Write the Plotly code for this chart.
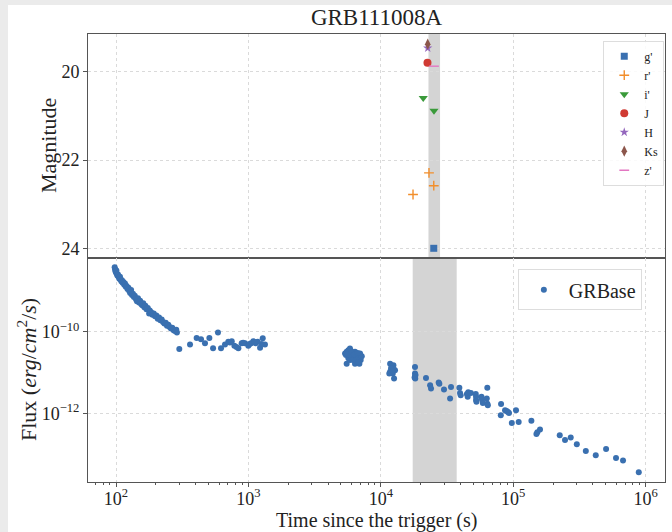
import numpy as np
import plotly.graph_objects as go
from plotly.subplots import make_subplots

# ---------------- data ----------------
title_text = "GRB111008A"

# optical/NIR photometry (time [s], magnitude)
g_t = [2.51e4]; g_m = [24.0]
r_t = [2.31e4, 2.51e4, 1.75e4]; r_m = [22.29, 22.58, 22.78]
i_t = [2.09e4, 2.52e4]; i_m = [20.59, 20.88]
J_t = [2.25e4]; J_m = [19.79]
H_t = [2.26e4]; H_m = [19.46]
Ks_t = [2.26e4]; Ks_m = [19.37]
z_t = [2.52e4]; z_m = [19.87]

top_span = [2.29e4, 2.80e4]
bottom_span = [1.74e4, 3.74e4]

# X-ray light curve, read as log10(time), log10(flux)
log_t = [1.990, 1.993, 1.996, 2.000, 2.003, 2.006, 2.010, 2.015, 2.020, 2.025, 2.030, 2.035,
         2.040, 2.045, 2.050, 2.056, 2.062, 2.068, 2.074, 2.080, 2.087, 2.094, 2.100, 2.107,
         2.114, 2.121, 2.128, 2.135, 2.142, 2.150, 2.158, 2.166, 2.174, 2.182, 2.190, 2.198,
         2.206, 2.214, 2.222, 2.230, 2.240, 2.250, 2.255, 2.265, 2.275, 2.285, 2.295, 2.305,
         2.315, 2.325, 2.335, 2.345, 2.355, 2.365, 2.375, 2.385, 2.395, 2.405, 2.415, 2.425,
         2.435, 2.445, 2.455, 2.460,
         2.478, 2.559, 2.609, 2.642, 2.672, 2.705, 2.733, 2.770, 2.793, 2.823, 2.848, 2.874,
         2.894, 2.924, 2.949, 2.974, 2.999, 3.020, 3.037, 3.055, 3.070, 3.088, 3.108, 3.125,
         2.860, 2.910, 2.960, 3.010, 3.045, 3.100,
         3.730, 3.742, 3.755, 3.767, 3.780, 3.792, 3.805, 3.818, 3.830, 3.843, 3.848, 3.838,
         3.805, 3.742, 3.755, 3.767, 3.780, 3.792, 3.818, 3.830, 3.737, 3.856, 3.750, 3.775,
         3.800, 3.825,
         4.070, 4.082, 4.095, 4.082, 4.070, 4.090, 4.107, 4.100, 4.064, 4.095, 4.077, 4.088,
         4.258, 4.258, 4.258, 4.260, 4.262, 4.255,
         4.341, 4.372, 4.379, 4.437, 4.442, 4.477, 4.523, 4.530, 4.593, 4.598, 4.603, 4.650,
         4.656, 4.660, 4.680, 4.717, 4.719, 4.719, 4.722, 4.760, 4.764, 4.770, 4.800, 4.804,
         4.808, 4.804, 4.908, 4.906, 4.938, 4.950, 4.960, 4.968, 4.989, 5.021, 5.041, 5.137,
         5.175, 5.182, 5.202, 5.351, 5.391, 5.434, 5.480, 5.548, 5.623, 5.701, 5.776, 5.829,
         5.948]
log_f = [-8.42, -8.47, -8.52, -8.55, -8.50, -8.58, -8.62, -8.60, -8.66, -8.70, -8.65, -8.72,
         -8.76, -8.74, -8.80, -8.78, -8.85, -8.82, -8.90, -8.88, -8.95, -8.92, -9.00, -9.05,
         -8.98, -9.10, -9.07, -9.15, -9.12, -9.20, -9.25, -9.18, -9.28, -9.24, -9.32, -9.35,
         -9.30, -9.40, -9.36, -9.45, -9.42, -9.55, -9.48, -9.52, -9.58, -9.55, -9.62, -9.60,
         -9.68, -9.65, -9.72, -9.70, -9.76, -9.80, -9.78, -9.85, -9.83, -9.88, -9.92, -9.90,
         -9.96, -9.98, -9.95, -10.02,
         -10.42, -10.31, -10.15, -10.18, -10.28, -10.15, -10.40, -10.02, -10.40, -10.31, -10.245, -10.23,
         -10.34, -10.40, -10.28, -10.28, -10.34, -10.28, -10.23, -10.28, -10.245, -10.39, -10.16, -10.31,
         -10.26, -10.37, -10.27, -10.30, -10.25, -10.30,
         -10.53, -10.49, -10.45, -10.41, -10.53, -10.61, -10.49, -10.57, -10.61, -10.53, -10.69, -10.78,
         -10.78, -10.78, -10.65, -10.69, -10.61, -10.69, -10.69, -10.74, -10.57, -10.60, -10.55, -10.47,
         -10.55, -10.52,
         -10.78, -10.86, -10.82, -10.94, -10.98, -11.02, -10.94, -11.14, -11.02, -10.90, -10.90, -10.96,
         -10.86, -11.02, -11.10, -11.14, -11.06, -11.12,
         -11.13, -11.31, -11.39, -11.24, -11.27, -11.41, -11.63, -11.35, -11.37, -11.50, -11.55, -11.52,
         -11.59, -11.48, -11.50, -11.52, -11.59, -11.67, -11.71, -11.59, -11.66, -11.74, -11.63, -11.76,
         -11.80, -11.37, -11.77, -12.04, -11.92, -11.94, -11.96, -11.99, -12.23, -11.92, -12.21, -12.18,
         -12.50, -12.46, -12.39, -12.53, -12.65, -12.59, -12.75, -12.92, -13.02, -12.87, -13.09, -13.15,
         -13.44]

x_tickvals = [1e2, 1e3, 1e4, 1e5, 1e6]
x_ticktext = ["10<sup>2</sup>", "10<sup>3</sup>", "10<sup>4</sup>", "10<sup>5</sup>", "10<sup>6</sup>"]
mag_ticks = [20, 22, 24]
flux_tickvals = [1e-10, 1e-12]
flux_ticktext = ["10<sup>\u221210</sup>", "10<sup>\u221212</sup>"]

# ---------------- figure ----------------
FONT = "Liberation Serif"
BLUE = "#3a70b0"
TXT = "#222222"
LINE = "#555555"

fig = make_subplots(rows=2, cols=1, shared_xaxes=True, vertical_spacing=0)

# page-like white sheet over a gray page (added first so it stays underneath)
fig.add_shape(type="rect", xref="paper", yref="paper",
              x0=(8 - 88) / 577, x1=(672 - 88) / 577 + 0.01,
              y0=-50 / 448 - 0.01, y1=1 + 29 / 448,
              fillcolor="white", line_width=0, layer="below")

def mtrace(t, m, name, color, symbol, size, lw=0):
    marker = dict(color=color, symbol=symbol, size=size)
    if lw:
        marker["line"] = dict(color=color, width=lw)
    fig.add_trace(go.Scatter(x=t, y=m, mode="markers", name=name, marker=marker,
                             legend="legend"), row=1, col=1)

mtrace(g_t, g_m, "g'", BLUE, "square", 7)
mtrace(r_t, r_m, "r'", "#f28e2b", "cross-thin", 7, 1.4)
mtrace(i_t, i_m, "i'", "#3a9a3a", "triangle-down", 8)
mtrace(J_t, J_m, "J", "#d03a33", "circle", 8)
mtrace(H_t, H_m, "H", "#9467bd", "star", 7)
mtrace(Ks_t, Ks_m, "Ks", "#8c564b", "diamond-tall", 8)
mtrace(z_t, z_m, "z'", "#e377c2", "line-ew", 7, 1.4)

fig.add_trace(go.Scatter(x=np.power(10.0, log_t), y=np.power(10.0, log_f), mode="markers",
                         name="GRBase", marker=dict(color=BLUE, size=6),
                         legend="legend2"), row=2, col=1)

# shaded spans
fig.add_shape(type="rect", xref="x", yref="y domain", x0=top_span[0], x1=top_span[1],
              y0=0, y1=1, fillcolor="#d4d4d4", line_width=0, layer="below")
fig.add_shape(type="rect", xref="x2", yref="y2 domain", x0=bottom_span[0], x1=bottom_span[1],
              y0=0, y1=1, fillcolor="#d4d4d4", line_width=0, layer="below")

axis_common = dict(showline=True, linecolor=LINE, linewidth=1, mirror=True,
                   showgrid=True, gridcolor="#dadada", griddash="dot", gridwidth=0.8,
                   zeroline=False, automargin=False,
                   tickfont=dict(family=FONT, size=18, color=TXT))

fig.update_xaxes(type="log", range=[1.7885, 6.146], tickvals=x_tickvals, ticktext=x_ticktext,
                 **axis_common)
fig.update_xaxes(showticklabels=False, ticks="", row=1, col=1)
minor_vals = [m * 10 ** e for e in range(1, 7) for m in range(2, 10)]
fig.update_xaxes(ticks="outside", ticklen=4, tickcolor=LINE, ticklabelstandoff=-4,
                 minor=dict(ticks="outside", ticklen=2, tickcolor=LINE, tickvals=minor_vals,
                            showgrid=False),
                 row=2, col=1)

fig.update_yaxes(range=[24.22, 19.14], tickvals=mag_ticks, ticks="outside", ticklen=4,
                 tickcolor=LINE, row=1, col=1, **axis_common)
fig.update_yaxes(type="log", range=[-13.676, -8.194], tickvals=flux_tickvals, ticktext=flux_ticktext,
                 ticks="outside", ticklen=4, tickcolor=LINE, row=2, col=1, **axis_common)

# axis titles
fig.add_annotation(text="Time since the trigger (s)", xref="paper", yref="paper",
                   x=0.5, y=-(520 - 482) / 448, showarrow=False, xanchor="center", yanchor="middle",
                   font=dict(family=FONT, size=20, color=TXT))
fig.add_annotation(text="Magnitude", xref="paper", yref="paper", textangle=-90,
                   x=(48 - 88) / 577, y=0.75, showarrow=False, xanchor="center", yanchor="middle",
                   font=dict(family=FONT, size=22, color=TXT))
fig.add_annotation(text="Flux (<i>erg</i>/<i>cm</i><sup>2</sup>/<i>s</i>)", xref="paper", yref="paper",
                   textangle=-90, x=(27 - 88) / 577, y=0.25, showarrow=False,
                   xanchor="center", yanchor="middle",
                   font=dict(family=FONT, size=22, color=TXT))

fig.update_layout(
    width=672, height=532,
    margin=dict(l=88, r=7, t=34, b=50),
    paper_bgcolor="#ebebeb", plot_bgcolor="white",
    title=dict(text=title_text, x=0.5, xref="paper", y=1 - 17 / 532, yanchor="middle",
               font=dict(family=FONT, size=23, color=TXT)),
    legend=dict(x=0.893, y=0.985, xanchor="left", yanchor="top",
                bgcolor="rgba(255,255,255,0.85)", bordercolor="#dddddd", borderwidth=1,
                font=dict(family=FONT, size=12, color=TXT), itemwidth=30,
                tracegroupgap=0),
    legend2=dict(x=0.745, y=0.475, xanchor="left", yanchor="top",
                 bgcolor="rgba(255,255,255,0.85)", bordercolor="#dddddd", borderwidth=1,
                 font=dict(family=FONT, size=20, color=TXT), itemwidth=40),
    showlegend=True,
)

fig.write_html("out.html")
